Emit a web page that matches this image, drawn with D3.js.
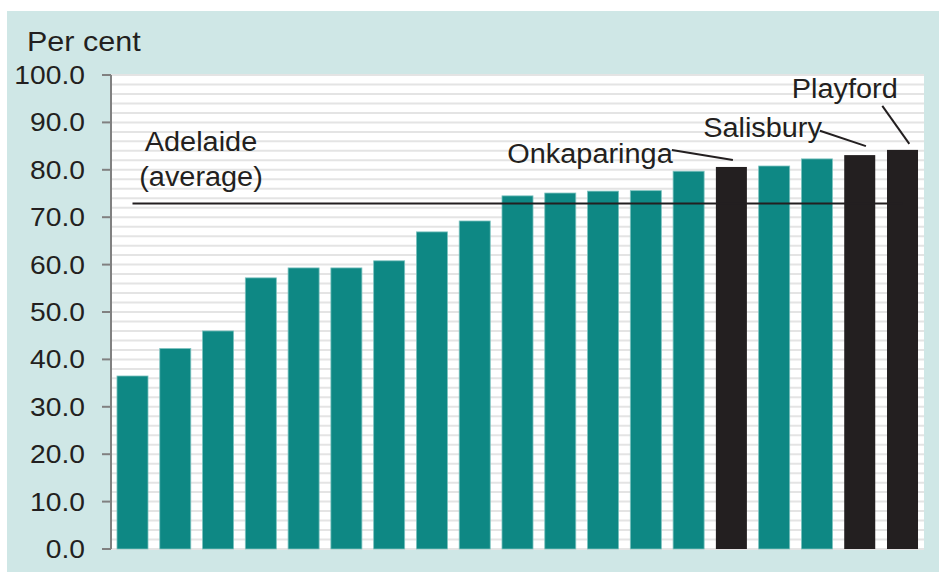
<!DOCTYPE html>
<html>
<head>
<meta charset="utf-8">
<script src="https://cdn.jsdelivr.net/npm/d3@7"></script>
<style>
  body { margin: 0; background: #fff; }
  text { font-family: "Liberation Sans", Arial, sans-serif; fill: #231f20; }
</style>
</head>
<body>
<svg id="chart" width="939" height="572"></svg>
<script>
// one bar per council area, sorted; only three are named on the chart
const councils = ["", "", "", "", "", "", "", "", "", "", "", "", "", "",
                  "Onkaparinga", "", "", "Salisbury", "Playford"];
const values = [36.5, 42.3, 46.0, 57.2, 59.3, 59.3, 60.8, 66.9, 69.2, 74.5,
                75.1, 75.5, 75.6, 79.7, 80.6, 80.8, 82.3, 83.1, 84.2];
const highlighted = ["Onkaparinga", "Salisbury", "Playford"];
const adelaideAverage = 72.9;
const yTicks = [0, 10, 20, 30, 40, 50, 60, 70, 80, 90, 100];

const svg = d3.select("#chart");
const margin = {left: 111, right: 15, top: 75, bottom: 23};
const W = 939, H = 572;

const x = d3.scaleBand()
    .domain(d3.range(values.length))
    .range([margin.left, W - margin.right])
    .paddingInner(0.275)
    .paddingOuter(0.14);
const y = d3.scaleLinear().domain([0, 100]).range([H - margin.bottom, margin.top]);

// stretched text, like the original
function stext(g, str, px, py, size, anchor, sx) {
  return g.append("text")
    .attr("transform", `translate(${px},${py}) scale(${sx},1)`)
    .attr("text-anchor", anchor)
    .style("font-size", size + "px")
    .text(str);
}

svg.append("rect").attr("x", 7).attr("y", 11).attr("width", W - 7).attr("height", H - 11)
    .attr("fill", "#cfe7e6");
svg.append("rect")
    .attr("x", margin.left).attr("y", y(100))
    .attr("width", W - margin.right - margin.left).attr("height", y(0) - y(100) + 1)
    .attr("fill", "#fff");

// minor grid every 2
svg.append("g").selectAll("line")
  .data(d3.range(0, 101, 2))
  .join("line")
    .attr("x1", margin.left).attr("x2", W - margin.right)
    .attr("y1", d => y(d)).attr("y2", d => y(d))
    .attr("stroke", "#e4e4e4").attr("stroke-width", 2);

// bars
svg.append("g").selectAll("rect")
  .data(values)
  .join("rect")
    .attr("x", (d, i) => x(i))
    .attr("width", x.bandwidth())
    .attr("y", d => y(d))
    .attr("height", d => y(0) - y(d))
    .attr("fill", (d, i) => highlighted.includes(councils[i]) ? "#231f20" : "#0e8884")
    .attr("stroke", (d, i) => highlighted.includes(councils[i]) ? "none" : "#7cc2bf")
    .attr("stroke-width", 0.8);

// average line
const first = x(0) + x.bandwidth() / 2, last = x(values.length - 1) + x.bandwidth() / 2;
svg.append("line")
    .attr("x1", first).attr("x2", last)
    .attr("y1", y(adelaideAverage)).attr("y2", y(adelaideAverage))
    .attr("stroke", "#231f20").attr("stroke-width", 2);
stext(svg, "Adelaide", first + 68.5, y(adelaideAverage) - 52, 27, "middle", 1.07);
stext(svg, "(average)", first + 68.5, y(adelaideAverage) - 17.5, 27, "middle", 1.07);

// y axis
const axis = svg.append("g");
axis.append("line")
    .attr("x1", margin.left).attr("x2", margin.left)
    .attr("y1", y(100)).attr("y2", y(0))
    .attr("stroke", "#808080").attr("stroke-width", 2);
axis.selectAll("line.tick")
  .data(yTicks)
  .join("line")
    .attr("class", "tick")
    .attr("x1", margin.left - 9).attr("x2", margin.left)
    .attr("y1", d => y(d)).attr("y2", d => y(d))
    .attr("stroke", "#808080").attr("stroke-width", 2);
yTicks.forEach(t => {
  stext(axis, d3.format(".1f")(t), 85, y(t) + 9, 25, "end", 1.13);
});
stext(svg, "Per cent", 27, 51, 27.5, "start", 1.11);

// callouts, offsets relative to the top centre of each bar
const callouts = [
  {name: "Onkaparinga", text: [-58.7, -3.7], from: [-59.5, -17], to: [1.5, -7]},
  {name: "Salisbury",   text: [-37.8, -17.7], from: [-39.8, -24.3], to: [6.2, -9]},
  {name: "Playford",    text: [-4.8, -51.7], from: [-20.2, -44], to: [6.8, -6]}
];
callouts.forEach(c => {
  const i = councils.indexOf(c.name);
  const cx = x(i) + x.bandwidth() / 2, cy = y(values[i]);
  svg.append("line")
      .attr("x1", cx + c.from[0]).attr("y1", cy + c.from[1])
      .attr("x2", cx + c.to[0]).attr("y2", cy + c.to[1])
      .attr("stroke", "#231f20").attr("stroke-width", 2);
  stext(svg, c.name, cx + c.text[0], cy + c.text[1], 27, "end", 1.07);
});
</script>
</body>
</html>
